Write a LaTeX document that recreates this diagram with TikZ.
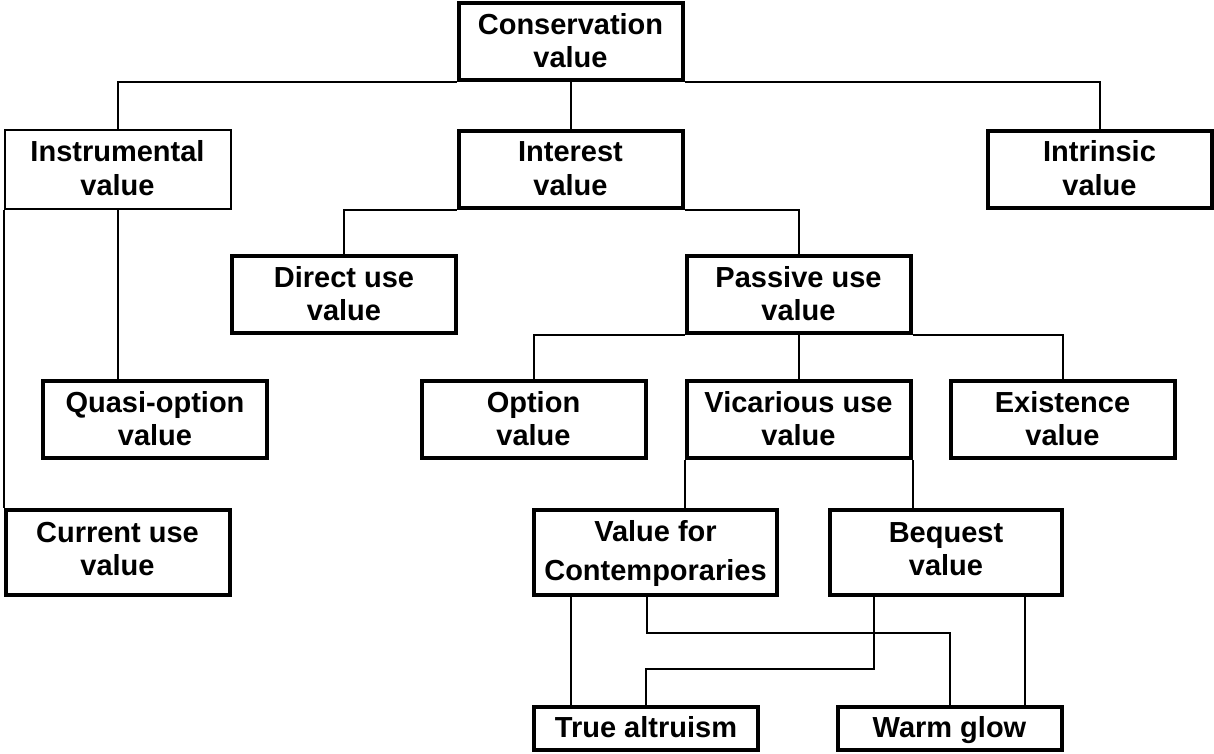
\documentclass[tikz,border=0pt]{standalone}
\usepackage{fontspec}
\setmainfont{Liberation Sans}
\usepackage{xcolor}
\usepackage{tikz}
\usetikzlibrary{positioning, calc}

\tikzset{
    valbox/.style={
        draw=black,
        line width=4pt,
        minimum width=224pt,
        minimum height=77pt,
        inner sep=1pt,
        text height=54pt,
        text depth=3pt,
        align=center,
        font=\fontsize{29}{33}\selectfont\bfseries
    },
    thinbox/.style={valbox, line width=2pt, minimum width=226pt, minimum height=79pt},
    tallbox/.style={valbox, minimum height=85pt, text depth=9pt},
    flatbox/.style={valbox, minimum height=43pt, text height=21pt, text depth=4pt},
    link/.style={draw=black, line width=2pt}
}

\begin{document}
\begin{tikzpicture}[x=1pt, y=-1pt]
\useasboundingbox (0,0) rectangle (1214,754);

% top levels
\node[valbox] (cons) at (570.5,42) {Conservation\\value};
\node[thinbox] (instr) at (117.5,169.5) {Instrumental\\value};
\node[valbox] (inter) at (570.5,169.5) {Interest\\value};
\node[valbox] (intr) at (1099.5,169.5) {Intrinsic\\value};

\node[valbox] (direct) at (344,294.5) {Direct use\\value};
\node[valbox] (passive) at (798.5,294.5) {Passive use\\value};

\node[valbox] (quasi) at (155,419.5) {Quasi-option\\value};
\node[valbox] (option) at (533.5,419.5) {Option\\value};
\node[valbox] (vicar) at (798.5,419.5) {Vicarious use\\value};
\node[valbox] (exist) at (1062.5,419.5) {Existence\\value};

% lower levels
\node[tallbox] (current) at (117.5,552.5) {Current use\\value};
\node[tallbox, minimum width=243pt, text height=60pt, text depth=5pt] (contemp) at (655.5,552.5) {Value for\\[6pt]Contemporaries};
\node[tallbox, minimum width=232pt] (bequest) at (946,552.5) {Bequest\\value};

\node[flatbox] (altru) at (646,728.5) {True altruism};
\node[flatbox] (warm) at (949.5,728.5) {Warm glow};

% connectors
\draw[link] (cons.south west) -| (instr.north);
\draw[link] (cons.south) -- (inter.north);
\draw[link] (cons.south east) -| (intr.north);

\draw[link] (instr.south west) -- (instr.south west |- current.north);
\draw[link] (instr.south) -- (instr.south |- quasi.north);

\draw[link] (inter.south west) -| (direct.north);
\draw[link] (inter.south east) -| (passive.north);

\draw[link] (passive.south west) -| (option.north);
\draw[link] (passive.south) -- (vicar.north);
\draw[link] (passive.south east) -| (exist.north);

\draw[link] (vicar.south west) -- (vicar.south west |- contemp.north);
\draw[link] (vicar.south east) -- (vicar.south east |- bequest.north);

\coordinate (c1) at ([xshift=39pt]contemp.south west);
\coordinate (c2) at ([xshift=-8.5pt]contemp.south);
\coordinate (b1) at ([xshift=-72pt]bequest.south);
\coordinate (b2) at ([xshift=79pt]bequest.south);
\draw[link] (c1) -- (c1 |- altru.north);
\draw[link] (c2) -- ++(0,36) -| (warm.north);
\draw[link] (b1) -- ++(0,72) -| (altru.north);
\draw[link] (b2) -- (b2 |- warm.north);
\end{tikzpicture}
\end{document}
